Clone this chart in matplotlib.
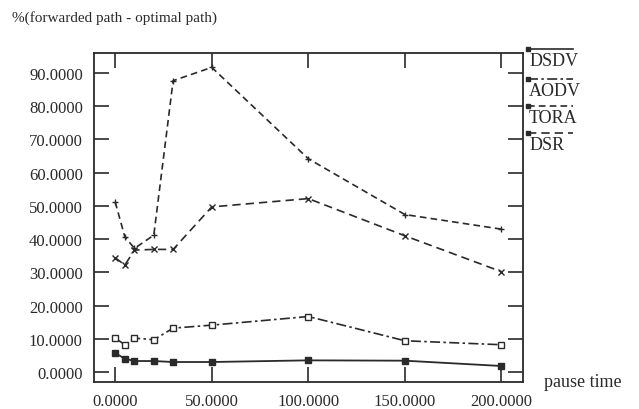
import matplotlib
matplotlib.use("Agg")
import matplotlib.pyplot as plt

plt.rcParams['font.family'] = ['Liberation Serif', 'DejaVu Serif']

pause = [0, 5, 10, 20, 30, 50, 100, 150, 200]
dsdv = [5.7, 4.0, 3.3, 3.3, 3.0, 3.0, 3.5, 3.4, 1.8]
aodv = [10.2, 8.2, 10.2, 9.7, 13.2, 14.1, 16.7, 9.4, 8.2]
tora = [51.2, 40.7, 37.2, 41.2, 87.7, 91.7, 64.2, 47.4, 43.0]
dsr = [34.4, 32.2, 36.7, 36.9, 36.9, 49.7, 52.2, 41.0, 30.2]
yticks = [0, 10, 20, 30, 40, 50, 60, 70, 80, 90]
xticks = [0, 50, 100, 150, 200]

ink = '#2a2a2a'
fig = plt.figure(figsize=(6.39, 4.10), dpi=100)
ax = fig.add_axes([0.147, 0.066, 0.671, 0.802])

ax.plot(pause, dsdv, color=ink, lw=1.3, ls='-', marker='s', ms=4.5,
        mfc=ink, mec=ink)
ax.plot(pause, aodv, color=ink, lw=1.2, ls=(0, (6, 2, 1.5, 2)), marker='s', ms=5,
        mfc='white', mec=ink, mew=1.0)
ax.plot(pause, tora, color=ink, lw=1.2, ls=(0, (4, 2.5)), marker='+', ms=5,
        mec=ink, mew=1.0)
ax.plot(pause, dsr, color=ink, lw=1.2, ls=(0, (5, 3)), marker='x', ms=4,
        mec=ink, mew=1.0)

ax.set_xlim(-11, 211)
ax.set_ylim(-3, 96)
ax.set_xticks(xticks)
ax.set_xticklabels(['%.4f' % v for v in xticks])
ax.set_yticks(yticks)
ax.set_yticklabels(['%.4f' % v for v in yticks])
ax.tick_params(direction='in', length=11, width=1.2, labelsize=12,
               top=True, right=True, colors=ink, pad=8)
for s in ax.spines.values():
    s.set_linewidth(1.3)
    s.set_color(ink)

fig.text(0.018, 0.955, '%(forwarded path - optimal path)', fontsize=11,
         color=ink, va='center', ha='left')
fig.text(0.852, 0.066, 'pause time', fontsize=13, color=ink,
         va='center', ha='left')

# legend on the right side, line drawn above each label
names = ['DSDV', 'AODV', 'TORA', 'DSR']
styles = ['-', (0, (6, 2, 1.5, 2)), (0, (4, 2.5)), (0, (5, 3))]
ypos = [0.878, 0.805, 0.738, 0.672]
for name, st, yy in zip(names, styles, ypos):
    fig.add_artist(plt.Line2D([0.826, 0.896], [yy, yy], color=ink, lw=1.2,
                              ls=st, transform=fig.transFigure))
    fig.add_artist(plt.Line2D([0.826], [yy], color=ink, marker='s', ms=3,
                              transform=fig.transFigure))
    fig.text(0.828, yy - 0.028, name, fontsize=13, color=ink,
             va='center', ha='left')

fig.savefig('out.png', dpi=100)
